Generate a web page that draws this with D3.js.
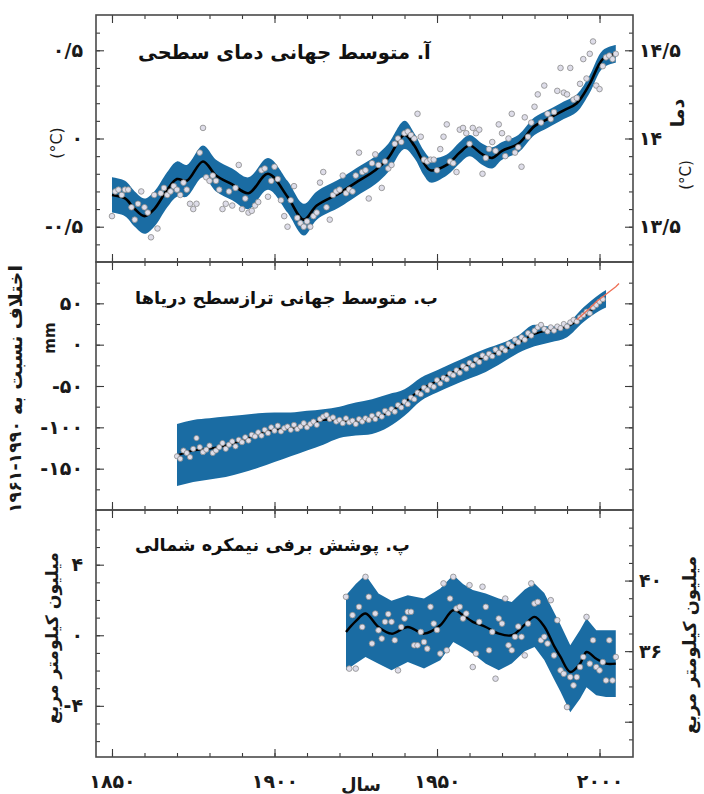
<!DOCTYPE html>
<html>
<head>
<meta charset="utf-8">
<script src="https://d3js.org/d3.v7.min.js"></script>
<style>
  body { margin: 0; background: #fff; }
  text { font-family: "DejaVu Sans", sans-serif; }
</style>
</head>
<body>
<svg id="chart" width="704" height="794"></svg>
<script>
// ---- data ----
// x axis
const yearTicks = [1850, 1900, 1950, 2000];
const yearMinor = [1850, 1860, 1870, 1880, 1890, 1900, 1910, 1920, 1930, 1940, 1950, 1960, 1970, 1980, 1990, 2000];

// A. global mean surface temperature (anomaly, deg C)
const tempStart = 1850;
const tempValues = [
  -0.44, -0.30, -0.29, -0.32, -0.29, -0.29, -0.39, -0.46, -0.37, -0.30,
  -0.39, -0.42, -0.56, -0.32, -0.51, -0.31, -0.28, -0.32, -0.30, -0.27,
  -0.29, -0.32, -0.25, -0.29, -0.37, -0.40, -0.37, -0.08, 0.06, -0.22,
  -0.24, -0.21, -0.24, -0.29, -0.40, -0.37, -0.30, -0.38, -0.28, -0.15,
  -0.40, -0.34, -0.42, -0.41, -0.38, -0.36, -0.18, -0.17, -0.33, -0.24,
  -0.16, -0.23, -0.35, -0.44, -0.50, -0.35, -0.27, -0.45, -0.48, -0.50,
  -0.47, -0.50, -0.44, -0.42, -0.25, -0.19, -0.39, -0.46, -0.32, -0.30,
  -0.29, -0.21, -0.31, -0.29, -0.30, -0.21, -0.08, -0.19, -0.18, -0.34,
  -0.14, -0.09, -0.15, -0.28, -0.13, -0.17, -0.15, -0.03, 0.00, -0.02,
  0.03, 0.04, 0.02, 0.00, 0.14, 0.01, -0.12, -0.13, -0.12, -0.12,
  -0.18, -0.06, 0.01, 0.08, -0.13, -0.14, -0.19, 0.05, 0.06, 0.03,
  -0.03, 0.06, 0.03, 0.05, -0.20, -0.11, -0.06, -0.02, -0.07, 0.08,
  0.03, -0.10, 0.00, 0.14, -0.08, -0.05, -0.16, 0.12, 0.01, 0.09,
  0.18, 0.25, 0.09, 0.30, 0.14, 0.11, 0.15, 0.27, 0.40, 0.26,
  0.25, 0.40, 0.22, 0.23, 0.31, 0.45, 0.34, 0.48, 0.55, 0.30,
  0.28, 0.41, 0.46, 0.47, 0.45, 0.48
];
const tempSmoothYears = [1850, 1854, 1857, 1860, 1863, 1867, 1870, 1873, 1878, 1882, 1887, 1892, 1898, 1904, 1909, 1913, 1920, 1925, 1931, 1935, 1940, 1943, 1946, 1948, 1953, 1957, 1960, 1964, 1967, 1970, 1975, 1980, 1984, 1989, 1993, 1997, 2001, 2005];
const tempSmooth = [-0.32, -0.34, -0.40, -0.44, -0.40, -0.29, -0.23, -0.24, -0.13, -0.21, -0.26, -0.31, -0.20, -0.33, -0.46, -0.38, -0.31, -0.25, -0.18, -0.11, 0.02, -0.04, -0.14, -0.18, -0.15, -0.08, -0.04, -0.09, -0.11, -0.07, -0.03, 0.07, 0.11, 0.16, 0.20, 0.31, 0.45, 0.48];
const tempHalf = [0.10, 0.10, 0.10, 0.10, 0.10, 0.10, 0.10, 0.09, 0.09, 0.09, 0.09, 0.09, 0.09, 0.09, 0.09, 0.08, 0.08, 0.08, 0.08, 0.08, 0.08, 0.07, 0.07, 0.07, 0.06, 0.06, 0.06, 0.06, 0.06, 0.05, 0.05, 0.05, 0.05, 0.05, 0.05, 0.05, 0.05, 0.05];
const tempTicks = [-0.5, 0, 0.5];
const tempMinor = [-0.6, -0.5, -0.4, -0.3, -0.2, -0.1, 0, 0.1, 0.2, 0.3, 0.4, 0.5, 0.6];
const tempRightTicks = [13.5, 14, 14.5];
const tempRightOffset = 14;

// B. global mean sea level (difference from 1961-1990, mm)
const seaStart = 1870;
const seaValues = [
  -135, -138, -128, -131, -136, -126, -113, -124, -130, -127,
  -122, -131, -128, -124, -119, -126, -121, -117, -123, -115,
  -118, -112, -116, -109, -111, -106, -110, -103, -107, -100,
  -104, -98, -105, -101, -99, -103, -97, -102, -99, -95,
  -100, -96, -93, -97, -90, -87, -85, -90, -88, -93,
  -91, -95, -89, -94, -92, -96, -90, -93, -89, -91,
  -86, -90, -84, -87, -80, -83, -78, -81, -73, -76,
  -69, -72, -64, -66, -58, -60, -52, -55, -49, -51,
  -43, -47, -40, -42, -35, -37, -31, -34, -26, -29,
  -22, -25, -18, -21, -13, -16, -11, -14, -6, -10,
  -4, -7, 1, -2, 6, 3, 9, 6, 14, 11,
  17, 21, 24, 19, 16, 21, 17, 22, 20, 25,
  22, 27, 30, 28, 33, 36, 40, 38, 45, 48,
  52, 55
];
const seaSmoothYears = [1870, 1875, 1880, 1885, 1890, 1895, 1900, 1905, 1910, 1915, 1920, 1925, 1930, 1935, 1940, 1945, 1950, 1955, 1960, 1965, 1970, 1975, 1980, 1985, 1990, 1995, 2000, 2001];
const seaSmooth = [-134, -128, -126, -122, -116, -108, -103, -101, -97, -91, -92, -93, -90, -82, -70, -54, -44, -33, -24, -14, -8, 2, 13, 18, 22, 34, 50, 53];
const seaBandYears = [1870, 1875, 1880, 1885, 1890, 1895, 1900, 1905, 1910, 1915, 1920, 1925, 1930, 1935, 1940, 1945, 1950, 1955, 1960, 1965, 1970, 1975, 1980, 1985, 1990, 1995, 2000, 2002];
const seaLow = [-171, -166, -163, -160, -155, -149, -142, -135, -128, -121, -113, -110, -108, -100, -86, -68, -58, -49, -41, -33, -22, -10, -2, 3, 9, 27, 41, 45];
const seaHigh = [-96, -91, -89, -87, -85, -83, -82, -82, -80, -78, -75, -70, -66, -60, -54, -40, -31, -22, -13, -5, 2, 11, 24, 22, 26, 45, 61, 66];
const satYears = [1993, 1995, 1997, 1999, 2001, 2003, 2005, 2006];
const satValues = [30, 37, 44, 52, 58, 64, 70, 74];
const seaTicks = [-150, -100, -50, 0, 50];
const seaMinor = [-175, -150, -125, -100, -75, -50, -25, 0, 25, 50, 75];

// C. northern hemisphere snow cover (million km2)
const snowStart = 1922;
const snowValues = [
  2.18, -1.89, 1.14, -1.89, 1.61, 0.47, 3.31, 2.18, -0.47, 1.23,
  0.28, -0.19, 0.76, 1.2, 0.76, -0.28, -1.99, 0.47, 0.95, 1.33,
  1.33, -0.57, -0.57, 0.19, -0.38, -0.76, 1.61, 0.66, 0.3, -1.04,
  2.94, -0.85, 2.08, 3.31, 1.52, 1.61, 0.95, 1.23, 2.84, -1.8,
  -1.04, 0.76, 2.75, 1.61, -0.85, 0.19, -2.46, 0.95, 0.66, 2.08,
  -0.57, -0.85, -0.09, 0.5, -0.09, -1.14, 0.66, 2.94, 1.8, 1.89,
  -0.28, -0.09, -0.47, 1.99, -1.14, 0.85, -1.99, -2.18, -4.07, -2.37,
  -2.84, -2.37, -1.8, -1.23, 1.04, -1.61, -0.28, -1.8, -1.99, -1.52,
  -2.56, -0.28, -2.56, -1.23
];
const snowSmoothYears = [1922, 1925, 1928, 1932, 1936, 1941, 1946, 1951, 1955, 1958, 1961, 1965, 1969, 1973, 1977, 1980, 1983, 1986, 1988, 1991, 1994, 1996, 1999, 2002, 2005];
const snowSmooth = [0.19, 0.8, 1.23, 0.47, 0.09, 0.47, 0.09, 0.57, 1.42, 1.14, 0.76, 0.47, 0.09, 0.0, 0.6, 1.04, 0.5, -0.6, -1.23, -2.08, -1.61, -0.95, -1.33, -1.61, -1.61];
const snowHigh = [2.27, 2.9, 3.41, 2.37, 1.95, 2.27, 2.08, 2.65, 3.41, 2.9, 2.56, 2.37, 2.08, 1.89, 2.6, 2.94, 2.4, 1.3, 0.6, -0.57, 0.3, 0.95, 0.28, 0.28, 0.28];
const snowLow = [-1.99, -1.6, -1.23, -1.61, -1.99, -1.52, -1.89, -1.42, -0.38, -0.7, -1.04, -1.61, -1.99, -1.6, -0.9, -0.66, -1.4, -2.5, -3.2, -4.36, -3.6, -2.94, -3.4, -3.5, -3.5];
const snowTicks = [-4, 0, 4];
const snowMinor = [-6, -5, -4, -3, -2, -1, 0, 1, 2, 3, 4, 5, 6];
const snowRightTicks = [36, 40];
const snowRightMinor = [31, 32, 33, 34, 35, 36, 37, 38, 39, 40, 41, 42, 43];
const snowRightOffset = 36.9;

// ---- drawing ----
const BLUE = '#1a6ca3';
const svg = d3.select('#chart');
const left = 96, right = 633;

const x = d3.scaleLinear().domain([1845.08, 2010.3]).range([left, right]);

function fa(v) {
  return String(v).replace('.', '/').replace(/[0-9]/g, d => '۰۱۲۳۴۵۶۷۸۹'[+d]);
}

function fitWidth(t, w) {
  const cur = t.node().getComputedTextLength();
  t.attr('font-size', parseFloat(t.attr('font-size')) * w / cur);
}

function drawFrame(top, bottom, y, minorL, majorL, yR, minorR, majorR) {
  const g = svg.append('g').attr('class', 'frame');
  // year ticks inward on top and bottom
  g.append('g').attr('transform', `translate(0,${top})`)
    .call(d3.axisBottom(x).tickValues(yearMinor).tickSize(4).tickFormat(''));
  g.append('g').attr('transform', `translate(0,${top})`)
    .call(d3.axisBottom(x).tickValues(yearTicks).tickSize(8).tickFormat(''));
  g.append('g').attr('transform', `translate(0,${bottom})`)
    .call(d3.axisTop(x).tickValues(yearMinor).tickSize(4).tickFormat(''));
  g.append('g').attr('transform', `translate(0,${bottom})`)
    .call(d3.axisTop(x).tickValues(yearTicks).tickSize(8).tickFormat(''));
  // left ticks
  g.append('g').attr('transform', `translate(${left},0)`)
    .call(d3.axisRight(y).tickValues(minorL).tickSize(4).tickFormat(''));
  g.append('g').attr('transform', `translate(${left},0)`)
    .call(d3.axisRight(y).tickValues(majorL).tickSize(8).tickFormat(''));
  // right ticks
  g.append('g').attr('transform', `translate(${right},0)`)
    .call(d3.axisLeft(yR).tickValues(minorR).tickSize(4).tickFormat(''));
  g.append('g').attr('transform', `translate(${right},0)`)
    .call(d3.axisLeft(yR).tickValues(majorR).tickSize(8).tickFormat(''));
  g.selectAll('.domain').remove();
  g.selectAll('.tick line').attr('stroke', '#3a3a3a').attr('stroke-width', 1.1);
  svg.append('rect')
    .attr('x', left).attr('y', top)
    .attr('width', right - left).attr('height', bottom - top)
    .attr('fill', 'none').attr('stroke', '#4a4a4a').attr('stroke-width', 1.6);
}

function drawLabels(y, ticks, side) {
  const ax = side === 'left'
    ? d3.axisLeft(y).tickValues(ticks).tickSize(0).tickPadding(13).tickFormat(fa)
    : d3.axisRight(y).tickValues(ticks).tickSize(0).tickPadding(6).tickFormat(fa);
  const g = svg.append('g')
    .attr('transform', `translate(${side === 'left' ? left : right},0)`)
    .call(ax);
  g.select('.domain').remove();
  g.selectAll('text')
    .attr('font-family', '"DejaVu Sans", sans-serif')
    .attr('font-size', 19).attr('font-weight', 'bold').attr('fill', '#1a1a1a');
}

function dots(data, y, r) {
  svg.append('g').selectAll('circle')
    .data(data).enter().append('circle')
    .attr('cx', d => x(d.year))
    .attr('cy', d => y(d.value))
    .attr('r', r)
    .attr('fill', '#dedde9')
    .attr('stroke', '#8a8a8a')
    .attr('stroke-width', 0.8);
}

// ===== Panel A: temperature =====
const yT = d3.scaleLinear().domain([-0.7, 0.7]).range([262, 15]);
const yTR = d3.scaleLinear().domain([-0.7 + tempRightOffset, 0.7 + tempRightOffset]).range([262, 15]);
const tempPts = tempValues.map((v, i) => ({ year: tempStart + i, value: v }));
const tempCurve = tempSmoothYears.map((yr, i) => ({ year: yr, value: tempSmooth[i], half: tempHalf[i] }));

svg.append('path')
  .datum(tempCurve)
  .attr('fill', BLUE)
  .attr('d', d3.area().curve(d3.curveCatmullRom)
    .x(d => x(d.year)).y0(d => yT(d.value - d.half)).y1(d => yT(d.value + d.half)));
svg.append('path')
  .datum(tempCurve)
  .attr('fill', 'none').attr('stroke', '#000').attr('stroke-width', 2.6)
  .attr('d', d3.line().curve(d3.curveCatmullRom).x(d => x(d.year)).y(d => yT(d.value)));
dots(tempPts, yT, 2.8);

drawFrame(15, 262, yT, tempMinor, tempTicks, yTR,
  tempMinor.map(v => +(v + tempRightOffset).toFixed(1)), tempRightTicks);
drawLabels(yT, tempTicks, 'left');
drawLabels(yTR, tempRightTicks, 'right');

// ===== Panel B: sea level =====
const yS = d3.scaleLinear().domain([-200, 100]).range([510, 262]);
const seaPts = seaValues.map((v, i) => ({ year: seaStart + i, value: v }));
const seaBand = seaBandYears.map((yr, i) => ({ year: yr, lo: seaLow[i], hi: seaHigh[i] }));
const seaCurve = seaSmoothYears.map((yr, i) => ({ year: yr, value: seaSmooth[i] }));

svg.append('path')
  .datum(seaBand)
  .attr('fill', BLUE)
  .attr('d', d3.area().curve(d3.curveMonotoneX)
    .x(d => x(d.year)).y0(d => yS(d.lo)).y1(d => yS(d.hi)));
svg.append('path')
  .datum(seaCurve)
  .attr('fill', 'none').attr('stroke', '#000').attr('stroke-width', 2)
  .attr('d', d3.line().curve(d3.curveCatmullRom).x(d => x(d.year)).y(d => yS(d.value)));
dots(seaPts, yS, 2.6);
svg.append('path')
  .datum(satYears.map((yr, i) => ({ year: yr, value: satValues[i] })))
  .attr('fill', 'none').attr('stroke', '#ef6f55').attr('stroke-width', 1.3)
  .attr('d', d3.line().x(d => x(d.year)).y(d => yS(d.value)));

drawFrame(262, 510, yS, seaMinor, seaTicks, yS, seaMinor, seaTicks);
drawLabels(yS, seaTicks, 'left');

// ===== Panel C: snow cover =====
const yN = d3.scaleLinear().domain([-6.9, 7.1]).range([757, 510]);
const yNR = d3.scaleLinear().domain([-6.9 + snowRightOffset, 7.1 + snowRightOffset]).range([757, 510]);
const snowPts = snowValues.map((v, i) => ({ year: snowStart + i, value: v }));
const snowBand = snowSmoothYears.map((yr, i) => ({ year: yr, lo: snowLow[i], hi: snowHigh[i], value: snowSmooth[i] }));

svg.append('path')
  .datum(snowBand)
  .attr('fill', BLUE)
  .attr('d', d3.area().curve(d3.curveLinear)
    .x(d => x(d.year)).y0(d => yN(d.lo)).y1(d => yN(d.hi)));
svg.append('path')
  .datum(snowBand)
  .attr('fill', 'none').attr('stroke', '#000').attr('stroke-width', 2.4)
  .attr('d', d3.line().curve(d3.curveCatmullRom).x(d => x(d.year)).y(d => yN(d.value)));
dots(snowPts, yN, 2.8);

drawFrame(510, 757, yN, snowMinor, snowTicks, yNR, snowRightMinor, [32, 36, 40]);
drawLabels(yN, snowTicks, 'left');
drawLabels(yNR, snowRightTicks, 'right');

// ---- year labels ----
const xg = svg.append('g').attr('transform', 'translate(0,757)')
  .call(d3.axisBottom(x).tickValues(yearTicks).tickSize(0).tickPadding(18).tickFormat(fa));
xg.select('.domain').remove();
xg.selectAll('text')
  .attr('font-family', '"DejaVu Sans", sans-serif')
  .attr('font-size', 19).attr('font-weight', 'bold').attr('fill', '#1a1a1a');

svg.append('text').attr('x', 361).attr('y', 791).attr('text-anchor', 'middle')
  .attr('font-size', 18).attr('font-weight', 'bold').attr('fill', '#1a1a1a').text('سال');

// ---- panel titles ----
const titles = [
  { text: 'آ. متوسط جهانی دمای سطحی', x: 138, y: 59, w: 293 },
  { text: 'ب. متوسط جهانی ترازسطح دریاها', x: 135, y: 304, w: 303 },
  { text: 'پ. پوشش برفی نیمکره شمالی', x: 135, y: 551, w: 275 }
];
titles.forEach(t => {
  const el = svg.append('text').attr('x', t.x).attr('y', t.y)
    .attr('font-size', 18).attr('font-weight', 'bold').attr('fill', '#111')
    .text(t.text);
  fitWidth(el, t.w);
});

// ---- axis titles ----
function vText(cx, cy, txt, size, weight, w) {
  const el = svg.append('text')
    .attr('transform', `translate(${cx},${cy}) rotate(-90)`)
    .attr('text-anchor', 'middle').attr('dominant-baseline', 'central')
    .attr('font-size', size).attr('font-weight', weight).attr('fill', '#1a1a1a')
    .text(txt);
  if (w) fitWidth(el, w);
  return el;
}
vText(56, 143, '(°C)', 16, 'normal');
vText(677, 113, 'دما', 19, 'bold');
vText(686, 175, '(°C)', 15, 'normal');
// left title of panel B: words on top, year range below (reads upward)
vText(15, 340, 'اختلاف نسبت به', 17, 'bold', 150);
vText(15, 467, '۱۹۶۱-۱۹۹۰', 17, 'bold', 92);
vText(50, 338, 'mm', 15, 'bold');
vText(52, 638, 'میلیون کیلومتر مربع', 17, 'bold', 172);
vText(689, 645, 'میلیون کیلومتر مربع', 17, 'bold', 178);
</script>
</body>
</html>
